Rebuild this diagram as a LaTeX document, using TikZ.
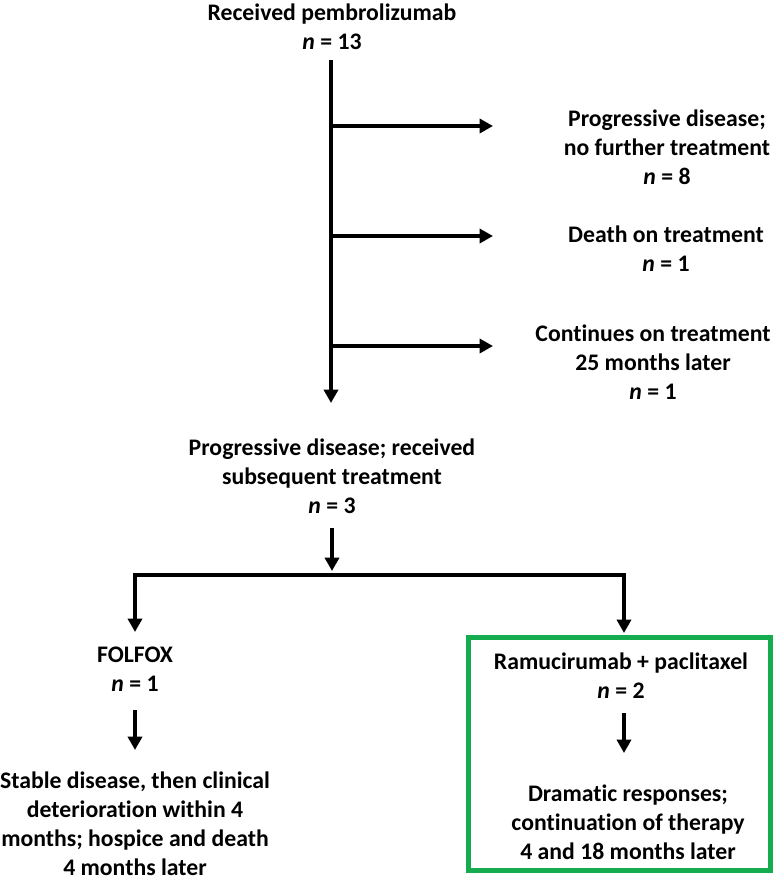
\documentclass[tikz,border=0pt]{standalone}
\usepackage{fontspec}
\setmainfont{Carlito}[Ligatures=NoCommon]
\usetikzlibrary{arrows.meta,positioning}

\definecolor{boxgreen}{RGB}{20,172,78}

\begin{document}
\begin{tikzpicture}[
    x=0.75pt, y=-0.75pt,
    txt/.style={align=center, inner sep=0pt,
                font=\fontsize{17.8}{21.75}\selectfont\bfseries},
    arr/.style={line width=3pt, -{Triangle[length=10pt,width=10.5pt]}},
    gbox/.style={draw=boxgreen, line width=3.75pt}
  ]
    \useasboundingbox (0,0) rectangle (772,879);

    %--- Texts ---
    \node[txt] (rec)    at (332,27)  {Received pembrolizumab\\\textit{n} = 13};
    \node[txt] (pdnf)   at (667,147) {Progressive disease;\\no further treatment\\\textit{n} = 8};
    \node[txt] (death)  at (666,249) {Death on treatment\\\textit{n} = 1};
    \node[txt] (cont)   at (653,362) {Continues on treatment\\25 months later\\\textit{n} = 1};
    \node[txt] (sub)    at (332,476) {Progressive disease; received\\subsequent treatment\\\textit{n} = 3};
    \node[txt] (folfox) at (135,669) {FOLFOX\\\textit{n} = 1};
    \node[txt] (stable) at (135,824) {Stable disease, then clinical\\deterioration within 4\\months; hospice and death\\4 months later};
    \node[txt] (ramu)   at (621,676) {Ramucirumab + paclitaxel\\\textit{n} = 2};
    \node[txt] (drama)  at (628,822) {Dramatic responses;\\continuation of therapy\\4 and 18 months later};

    %--- Junctions ---
    \coordinate (m0) at (331,60);
    \coordinate (m1) at (331,403);
    \coordinate (j1) at (331,126);  \coordinate (e1) at (493,126);
    \coordinate (j2) at (331,236);  \coordinate (e2) at (493,236);
    \coordinate (j3) at (331,346);  \coordinate (e3) at (493,346);
    \coordinate (s0) at (332,528);
    \coordinate (s1) at (332,571);
    \coordinate (bar) at (380,575);
    \coordinate (fl) at (135,632);
    \coordinate (rr) at (624,633);
    \coordinate (f0) at (135,710);  \coordinate (f1) at (135,750);
    \coordinate (r0) at (624,713);  \coordinate (r1) at (624,753);

    %--- Arrows ---
    \draw[arr] (m0) -- (m1);
    \draw[arr] (j1) -- (e1);
    \draw[arr] (j2) -- (e2);
    \draw[arr] (j3) -- (e3);
    \draw[arr] (s0) -- (s1);
    \draw[arr, {Triangle[length=10pt,width=10.5pt]}-{Triangle[length=10pt,width=10.5pt]}]
          (fl) |- (bar) -| (rr);
    \draw[arr] (f0) -- (f1);
    \draw[arr] (r0) -- (r1);

    %--- Highlight ---
    \draw[gbox] (468,637) rectangle (770,870);
\end{tikzpicture}
\end{document}
